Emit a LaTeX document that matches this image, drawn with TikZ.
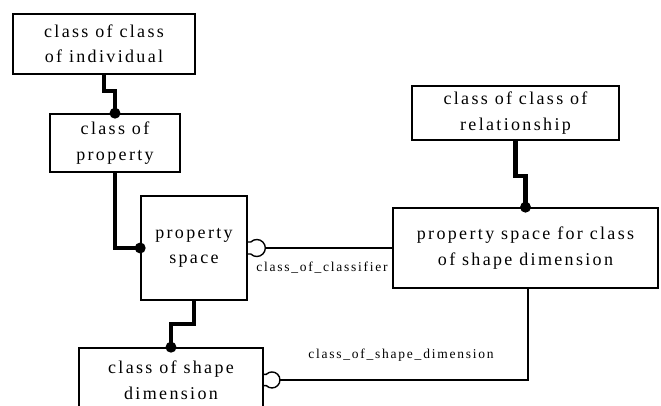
\documentclass[tikz,border=0pt]{standalone}
\usepackage{fontspec}
\setmainfont{Liberation Serif}[LetterSpace=13]
\usetikzlibrary{calc}
\begin{document}
\begin{tikzpicture}[x=1pt,y=-1pt,
  box/.style={draw,line width=1.6pt,rectangle,align=center,inner sep=0pt,
    font=\fontsize{18}{25.5}\selectfont},
  thk/.style={line width=4.5pt,line cap=butt},
  thn/.style={line width=1.4pt},
  dotc/.style={fill=black,draw=none},
  lbl/.style={font=\fontsize{13.5}{15}\selectfont,inner sep=0pt}]
\useasboundingbox (0,0) rectangle (661,406);
\node[box,minimum width=182pt,minimum height=60pt] (b1) at (104,44) {class of class\\of individual};
\node[box,minimum width=130pt,minimum height=58pt] (b2) at (115,143) {class of\\property};
\node[box,minimum width=106pt,minimum height=104pt] (b3) at (194,248) {property\\space};
\node[box,minimum width=265pt,minimum height=80pt] (b4) at (525.5,248) {property space for class\\of shape dimension};
\node[box,minimum width=207pt,minimum height=54pt] (b5) at (515.5,113) {class of class of\\relationship};
\node[box,minimum width=184pt,minimum height=64pt] (b6) at (171,380) {class of shape\\dimension};
% thick connectors
\draw[thk] (b1.south) -- ++(0,16) -| (b2.north);
\fill[dotc] (b2.north) circle (5.5pt);
\draw[thk] (b2.south) |- (b3.west);
\fill[dotc] (b3.west) circle (5.5pt);
\draw[thk] (b3.south) -- ++(0,23) -| (b6.north);
\fill[dotc] (b6.north) circle (5.5pt);
\draw[thk] (b5.south) -- ++(0,35) -| (b4.north);
\fill[dotc] (b4.north) circle (5.5pt);
% thin connectors with open semicircles
\draw[thn] ($(b3.east)+(0,-6)$) -- ++(3,0) arc (-135:135:8.5) -- ++(-3,0);
\coordinate (s1) at ($(b3.east)+(17.5,0)$);
\draw[thn] (s1) -- (b4.west);
\draw[thn] ($(b6.east)+(0,-5.7)$) -- ++(2.5,0) arc (-135:135:8) -- ++(-2.5,0);
\coordinate (s2) at ($(b6.east)+(16.5,0)$);
\draw[thn] (s2) -| ([xshift=2.5pt]b4.south);
\node[lbl] (l1) at (322,268) {class\_of\_classifier};
\node[lbl] (l2) at (401,355) {class\_of\_shape\_dimension};
\end{tikzpicture}
\end{document}
